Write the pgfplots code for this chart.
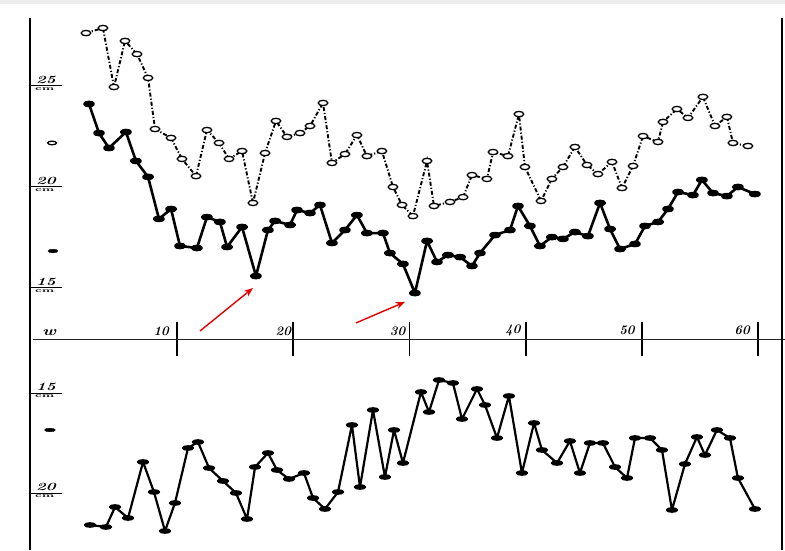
\documentclass[border=0pt]{standalone}
\usepackage{pgfplots}
\pgfplotsset{compat=1.18}
\usetikzlibrary{arrows.meta}

\begin{document}
\begin{tikzpicture}[x=1pt,y=1pt]
\useasboundingbox (0,0) rectangle (785,550);
\fill[white] (0,0) rectangle (785,550);
\fill[black!7] (0,546) rectangle (785,550);

\tikzset{
  numlab/.style={font=\fontsize{11}{11}\selectfont\bfseries\itshape, anchor=south, inner sep=0pt, xscale=1.5, yshift=2pt},
  cmlab/.style={font=\fontsize{6}{6}\selectfont\bfseries, anchor=north, inner sep=0pt, xscale=1.8, yshift=-2pt},
  xlab/.style={font=\fontsize{13}{13}\selectfont\bfseries\itshape},
}

% ---------------- upper panel ----------------
\begin{axis}[
  at={(30pt,211pt)}, anchor=south west,
  scale only axis, width=752pt, height=321pt,
  xmin=-2.668, xmax=62.05, ymin=12.475, ymax=28.366,
  axis line style={draw=none},
  xtick={10,20,30,40,50,60}, xticklabels={{},{},{},{},{},{}}, xtick pos=left,
  ytick=\empty,
  major tick length=34pt, tick align=center,
  tick style={line width=1.8pt, black},
  clip=false,
]
% frame and baseline
\draw[line width=0.9pt, black!85] (axis cs:-2.41,12.475) -- (axis cs:62.31,12.475);
\draw[line width=2.6pt] (rel axis cs:0,0) -- (rel axis cs:0,1);
\draw[line width=2.2pt] (rel axis cs:1,0) -- (rel axis cs:1,1);

% scale marks
\draw[line width=1pt] (axis cs:-2.668,25) -- (axis cs:0.086,25);
\draw[line width=1pt] (axis cs:-2.668,20) -- (axis cs:0.086,20);
\draw[line width=1pt] (axis cs:-2.668,15) -- (axis cs:0.086,15);
\node[numlab] at (axis cs:-1.3,25) {25};
\node[cmlab] at (axis cs:-1.4,25) {cm};
\node[numlab] at (axis cs:-1.3,20) {20};
\node[cmlab] at (axis cs:-1.4,20) {cm};
\node[numlab] at (axis cs:-1.3,15) {15};
\node[cmlab] at (axis cs:-1.4,15) {cm};
\addplot[only marks, mark=*, mark size=2.6pt, mark options={fill=white, draw=black, line width=1.3pt, xscale=1.7, yscale=0.7}] coordinates {(-0.77,22.18)};
\addplot[only marks, mark=*, mark size=2.6pt, mark options={fill=black, xscale=1.9, yscale=0.7}] coordinates {(-0.69,16.83)};

% x labels
\node[xlab] at (axis cs:10,12.475) [xshift=-16pt, yshift=8pt] {10};
\node[xlab] at (axis cs:20,12.475) [xshift=-10pt, yshift=8pt] {20};
\node[xlab] at (axis cs:30,12.475) [xshift=-12pt, yshift=8pt] {30};
\node[xlab] at (axis cs:40,12.475) [xshift=-13pt, yshift=9pt] {40};
\node[xlab] at (axis cs:50,12.475) [xshift=-15pt, yshift=9pt] {50};
\node[xlab] at (axis cs:60,12.475) [xshift=-16pt, yshift=9pt] {60};
\node[font=\fontsize{13}{13}\selectfont\bfseries\itshape, xscale=1.4] at (axis cs:-1.03,12.475) [yshift=6pt] {w};

% dash-dot series, open markers
\addplot[black, line width=1.9pt, dash pattern=on 4pt off 2pt on 1.2pt off 2pt,
  mark=*, mark size=2.8pt,
  mark options={solid, fill=white, draw=black, line width=1.3pt, xscale=1.7, yscale=0.95}]
coordinates {
(2.15,27.62) (3.61,27.87) (4.56,24.95) (5.51,27.23) (6.54,26.58) (7.49,25.40)
(8.09,22.87) (9.47,22.43) (10.41,21.39) (11.62,20.54) (12.56,22.82) (13.60,22.18)
(14.46,21.39) (15.58,21.78) (16.52,19.21) (17.56,21.68) (18.50,23.27) (19.45,22.48)
(20.57,22.67) (21.43,23.02) (22.55,24.16) (23.32,21.19) (24.44,21.63) (25.47,22.57)
(26.33,21.53) (27.62,21.78) (28.57,20.00) (29.35,19.11) (30.29,18.56) (31.50,21.29)
(32.10,19.06) (33.48,19.26) (34.60,19.50) (35.37,20.59) (36.66,20.40) (37.18,21.73)
(38.47,21.53) (39.41,23.61) (39.93,20.99) (41.31,19.31) (42.25,20.40) (43.20,20.99)
(44.23,21.98) (45.27,21.09) (46.21,20.64) (47.42,21.24) (48.28,19.95) (49.23,21.04)
(50.09,22.52) (51.38,22.23) (51.81,23.22) (53.01,23.86) (53.96,23.42) (55.25,24.46)
(56.28,23.02) (57.31,23.47) (57.83,22.18) (59.12,22.03)
};

% solid series, filled markers
\addplot[black, line width=2.6pt, line join=round,
  mark=*, mark size=2.4pt, mark options={fill=black, xscale=2.0, yscale=0.85}]
coordinates {
(2.41,24.11) (3.27,22.67) (4.13,21.93) (5.59,22.72) (6.45,21.29) (7.49,20.50)
(8.43,18.42) (9.47,18.91) (10.24,17.08) (11.70,16.98) (12.56,18.51) (13.68,18.27)
(14.29,17.03) (15.58,18.02) (16.78,15.59) (17.81,17.87) (18.42,18.32) (19.71,18.12)
(20.31,18.86) (21.43,18.71) (22.29,19.11) (23.32,17.23) (24.44,17.87) (25.47,18.61)
(26.33,17.72) (27.71,17.72) (28.31,16.73) (29.43,16.19) (30.46,14.75) (31.50,17.33)
(32.36,16.29) (33.30,16.63) (34.34,16.53) (35.37,16.09) (36.06,16.73) (37.35,17.62)
(38.64,17.87) (39.33,19.06) (40.36,18.07) (41.22,17.08) (42.25,17.52) (43.20,17.43)
(44.23,17.77) (45.35,17.57) (46.39,19.21) (47.25,17.92) (48.11,16.93) (49.40,17.18)
(50.26,18.07) (51.38,18.27) (52.24,18.91) (53.10,19.75) (54.39,19.60) (55.16,20.35)
(56.11,19.70) (57.31,19.55) (58.26,20.00) (59.72,19.65)
};

% red arrows
\draw[red!90!black, line width=1.4pt, -{Stealth[length=9pt,width=7pt]}] (axis cs:11.96,12.87) -- (axis cs:16.52,15.0);
\draw[red!90!black, line width=1.4pt, -{Stealth[length=9pt,width=7pt]}] (axis cs:25.39,13.27) -- (axis cs:29.60,14.31);
\end{axis}

% ---------------- lower panel ----------------
\begin{axis}[
  at={(30pt,0pt)}, anchor=south west,
  scale only axis, width=752pt, height=211pt,
  xmin=-2.668, xmax=62.05, ymin=12.3, ymax=22.85, y dir=reverse,
  axis line style={draw=none},
  xtick=\empty, ytick=\empty,
  clip=false,
]
\draw[line width=2.6pt] (rel axis cs:0,0) -- (rel axis cs:0,1);
\draw[line width=2.2pt] (rel axis cs:1,0) -- (rel axis cs:1,1);

\draw[line width=1pt] (axis cs:-2.668,15) -- (axis cs:0.086,15);
\draw[line width=1pt] (axis cs:-2.668,20) -- (axis cs:0.086,20);
\node[numlab] at (axis cs:-1.3,15) {15};
\node[cmlab] at (axis cs:-1.4,15) {cm};
\node[numlab] at (axis cs:-1.3,20) {20};
\node[cmlab] at (axis cs:-1.4,20) {cm};
\addplot[only marks, mark=*, mark size=2.6pt, mark options={fill=black, xscale=2.1, yscale=0.7}] coordinates {(-0.95,16.85)};

\addplot[black, line width=2.2pt, line join=round,
  mark=*, mark size=2.3pt, mark options={fill=black, xscale=2.2, yscale=0.75}]
coordinates {
(2.50,21.60) (3.87,21.70) (4.65,20.70) (5.77,21.25) (7.06,18.45) (8.00,19.95)
(8.95,21.90) (9.81,20.50) (10.93,17.75) (11.79,17.45) (12.74,18.75) (13.94,19.40)
(15.06,20.00) (16.01,21.30) (16.70,18.70) (17.81,18.00) (18.59,18.85) (19.62,19.30)
(20.91,19.00) (21.69,20.25) (22.72,20.80) (23.84,19.95) (25.04,16.60) (25.73,19.70)
(26.85,15.85) (27.88,19.20) (28.66,16.85) (29.43,18.50) (30.98,14.95) (31.67,15.95)
(32.53,14.35) (33.73,14.50) (34.51,16.30) (35.80,14.80) (36.49,15.60) (37.52,17.25)
(38.55,15.15) (39.67,19.00) (40.71,16.50) (41.39,17.85) (42.69,18.50) (43.80,17.40)
(44.66,19.00) (45.52,17.50) (46.64,17.50) (47.68,18.70) (48.71,19.25) (49.40,17.25)
(50.69,17.25) (51.72,17.85) (52.58,20.85) (53.70,18.55) (54.73,17.20) (55.42,18.10)
(56.45,16.85) (57.57,17.25) (58.26,19.25) (59.72,20.80)
};
\end{axis}
\end{tikzpicture}
\end{document}
